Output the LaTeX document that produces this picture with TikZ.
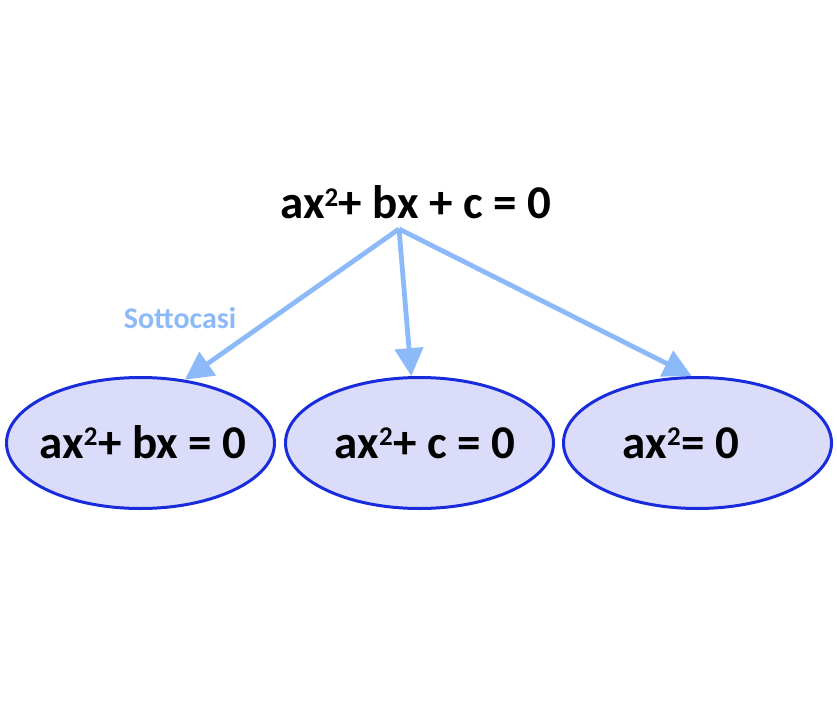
\documentclass[tikz,border=0pt]{standalone}
\usepackage{fontspec}
\setmainfont{Carlito}
\usetikzlibrary{arrows.meta,shapes.geometric}
\definecolor{arrowblue}{RGB}{140,186,248}
\definecolor{ellfill}{RGB}{218,220,250}
\definecolor{elldraw}{RGB}{24,44,220}
\newcommand\sqtwo{\textsuperscript{\fontsize{27}{27}\selectfont\raisebox{3pt}{2}}}
\begin{document}
\begin{tikzpicture}[x=1pt,y=-1pt,
  ell/.style={ellipse,draw=elldraw,fill=ellfill,line width=3pt,minimum width=268pt,minimum height=131pt,inner sep=0pt},
  eq/.style={font=\fontsize{47}{50}\selectfont\bfseries,inner sep=0pt},
  conn/.style={draw=arrowblue,line width=4.8pt,-{Triangle[length=28pt,width=28pt]}},
  lbl/.style={font=\fontsize{30}{34}\selectfont\bfseries,text=arrowblue,inner sep=0pt}
]
\useasboundingbox (0,0) rectangle (837,703);
\node[eq,anchor=base] (top) at (416,219) {ax\sqtwo+ bx + c = 0};
\coordinate (apex) at (399,229);
\node[ell] (e1) at (140.5,443) {};
\node[ell] (e2) at (419.5,443) {};
\node[ell] (e3) at (697.5,443) {};
\node[eq,anchor=base] (t1) at (143,458) {ax\sqtwo+ bx = 0};
\node[eq,anchor=base] (t2) at (425,458) {ax\sqtwo+ c = 0};
\node[eq,anchor=base] (t3) at (681,458) {ax\sqtwo= 0};
\draw[conn] (apex) -- (e1.55);
\draw[conn] (apex) -- (e2.97);
\draw[conn] (apex) -- (e3.95);
\node[lbl] (sub) at (180,318) {Sottocasi};
\end{tikzpicture}
\end{document}
